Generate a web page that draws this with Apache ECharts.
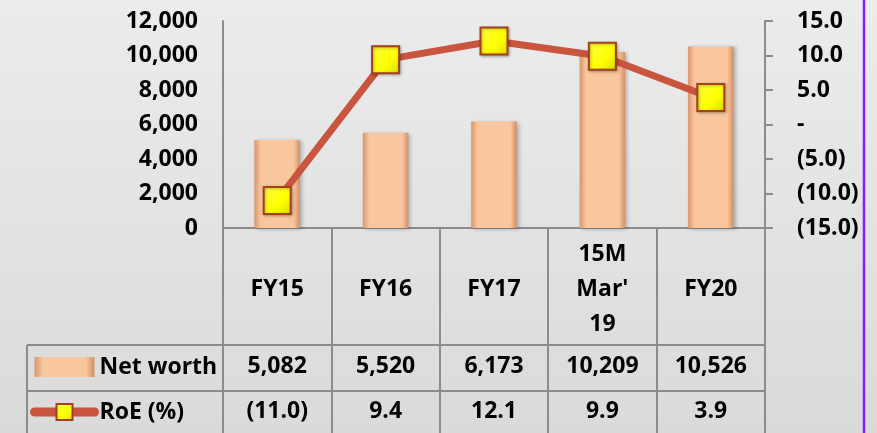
<!DOCTYPE html>
<html lang="en">
<head>
    <meta charset="utf-8">
    <title>Net worth and RoE</title>
    <script src="https://cdn.jsdelivr.net/npm/echarts@6/dist/echarts.min.js"></script>
    <style>
        html, body { margin: 0; padding: 0; }
        #main { width: 877px; height: 433px; }
    </style>
</head>
<body>
<div id="main"></div>
<script type="text/javascript">
    // data
    var categories = ['FY15', 'FY16', 'FY17', "15M Mar' 19", 'FY20'];
    var netWorth = [5082, 5520, 6173, 10209, 10526];
    var roe = [-11.0, 9.4, 12.1, 9.9, 3.9];

    var FONT = 'Open Sans';
    var FS = 23;

    function fmtNet(v) {
        return v.toLocaleString('en-US');
    }
    function fmtRoe(v) {
        if (v === 0) return '-';
        if (v < 0) return '(' + Math.abs(v).toFixed(1) + ')';
        return v.toFixed(1);
    }

    var myChart = echarts.init(document.getElementById('main'), null, {renderer: 'canvas'});

    var barColor = new echarts.graphic.LinearGradient(0, 0, 1, 0, [
        {offset: 0, color: '#d9966c'},
        {offset: 0.14, color: '#f9c69d'},
        {offset: 0.86, color: '#f9c69d'},
        {offset: 1, color: '#d28f64'}
    ]);
    var markColor = new echarts.graphic.LinearGradient(0, 0, 1, 1, [
        {offset: 0, color: '#ffff40'},
        {offset: 0.6, color: '#ffff00'},
        {offset: 1, color: '#d8d800'}
    ]);

    var option = {
        backgroundColor: new echarts.graphic.LinearGradient(0, 0, 0, 1, [
            {offset: 0, color: '#ececec'},
            {offset: 1, color: '#dadada'}
        ]),
        textStyle: {fontFamily: FONT},
        grid: {left: 223, right: 112, top: 21, bottom: 205},
        legend: {
            orient: 'vertical',
            left: 30,
            top: 355,
            padding: 0,
            itemWidth: 60,
            itemHeight: 20,
            itemGap: 21,
            itemTextGap: 3,
            textStyle: {fontFamily: FONT, fontWeight: 'bold', fontSize: FS, color: '#000', lineHeight: 24},
            data: [
                {name: 'Net worth', icon: 'rect'},
                {name: 'RoE (%)', lineStyle: {width: 9, cap: 'round'}}
            ]
        },
        xAxis: {
            type: 'category',
            data: categories,
            axisLine: {lineStyle: {color: '#8c8c8c', width: 2}},
            axisTick: {show: true, length: 210, lineStyle: {color: '#8c8c8c', width: 2}},
            axisLabel: {
                interval: 0,
                margin: 9,
                formatter: function (name, i) {
                    var parts = name.split(' ');
                    var lines = parts.length === 1 ? [' ', parts[0], ' '] : parts;
                    var out = lines.map(function (l) { return '{c|' + l + '}'; });
                    out.push('{s| }');
                    out.push('{v|' + fmtNet(netWorth[i]) + '}');
                    out.push('{v|' + fmtRoe(roe[i]) + '}');
                    return out.join('\n');
                },
                rich: {
                    c: {fontFamily: FONT, fontWeight: 'bold', fontSize: FS, color: '#000', lineHeight: 35},
                    s: {fontSize: 1, lineHeight: 2},
                    v: {fontFamily: FONT, fontWeight: 'bold', fontSize: FS, color: '#000', lineHeight: 45}
                }
            }
        },
        yAxis: [
            {
                type: 'value',
                min: 0,
                max: 12000,
                interval: 2000,
                splitLine: {show: false},
                axisLine: {show: true, lineStyle: {color: '#8c8c8c', width: 2}},
                axisTick: {show: false},
                axisLabel: {
                    margin: 25,
                    fontFamily: FONT, fontWeight: 'bold', fontSize: FS, color: '#000',
                    formatter: function (v) { return fmtNet(v); }
                }
            },
            {
                type: 'value',
                position: 'right',
                min: -15,
                max: 15,
                interval: 5,
                splitLine: {show: false},
                axisLine: {show: true, lineStyle: {color: '#8c8c8c', width: 2}},
                axisTick: {show: true, length: 8, lineStyle: {color: '#8c8c8c', width: 2}},
                axisLabel: {
                    margin: 32,
                    fontFamily: FONT, fontWeight: 'bold', fontSize: FS, color: '#000',
                    formatter: fmtRoe
                }
            }
        ],
        series: [
            {
                name: 'Net worth',
                type: 'bar',
                data: netWorth,
                barWidth: '42%',
                itemStyle: {
                    color: barColor,
                    shadowColor: 'rgba(0,0,0,0.25)',
                    shadowBlur: 4,
                    shadowOffsetX: 2,
                    shadowOffsetY: 1
                }
            },
            {
                name: 'RoE (%)',
                type: 'line',
                yAxisIndex: 1,
                data: roe,
                symbol: 'rect',
                symbolSize: 27,
                z: 5,
                lineStyle: {color: '#c9553f', width: 7, cap: 'round'},
                itemStyle: {
                    color: markColor,
                    borderColor: '#a3401e',
                    borderWidth: 2,
                    shadowColor: 'rgba(0,0,0,0.3)',
                    shadowBlur: 3,
                    shadowOffsetX: 1,
                    shadowOffsetY: 1
                }
            }
        ],
        graphic: [
            // data table row lines
            {type: 'line', shape: {x1: 27, y1: 345, x2: 765, y2: 345}, style: {stroke: '#8c8c8c', lineWidth: 2}},
            {type: 'line', shape: {x1: 27, y1: 391, x2: 765, y2: 391}, style: {stroke: '#8c8c8c', lineWidth: 2}},
            {type: 'line', shape: {x1: 27, y1: 345, x2: 27, y2: 433}, style: {stroke: '#8c8c8c', lineWidth: 2}},
            // purple border on the right
            {type: 'line', shape: {x1: 864, y1: 0, x2: 864, y2: 433}, style: {stroke: '#7f22ff', lineWidth: 2.5}}
        ]
    };

    myChart.setOption(option);
</script>
</body>
</html>
